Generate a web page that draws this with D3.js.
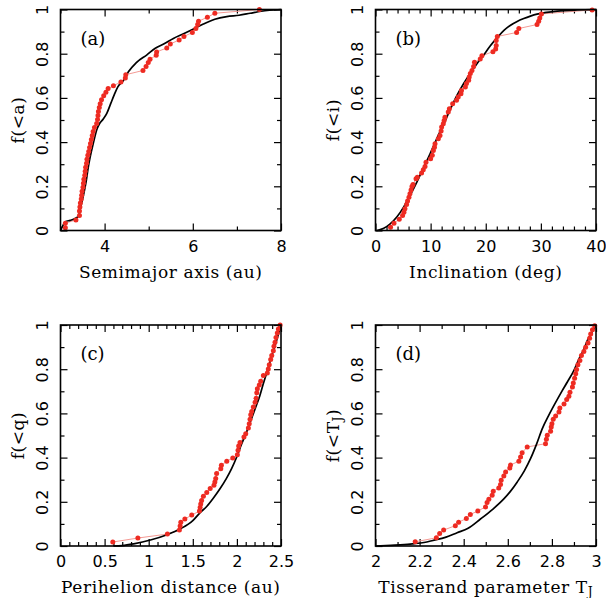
<!DOCTYPE html>
<html>
<head>
<meta charset="utf-8">
<script src="https://cdn.jsdelivr.net/npm/d3@7"></script>
<style>
  body { margin: 0; background: #fff; }
  svg text { fill: #000; }
</style>
</head>
<body>
<svg id="fig" width="606" height="598"></svg>
<script>
const aObs = [[3.11,0.012],[3.11,0.033],[3.35,0.048],[3.43,0.068],[3.43,0.088],[3.44,0.106],[3.45,0.124],[3.47,0.142],[3.48,0.16],[3.49,0.178],[3.51,0.196],[3.52,0.214],[3.53,0.232],[3.55,0.25],[3.56,0.268],[3.57,0.286],[3.59,0.304],[3.60,0.322],[3.62,0.34],[3.64,0.358],[3.66,0.376],[3.68,0.394],[3.70,0.412],[3.72,0.43],[3.74,0.448],[3.77,0.466],[3.82,0.484],[3.84,0.502],[3.85,0.52],[3.86,0.538],[3.88,0.556],[3.90,0.574],[3.93,0.592],[3.98,0.61],[4.03,0.626],[4.08,0.642],[4.20,0.655],[4.37,0.672],[4.47,0.69],[4.48,0.705],[4.87,0.724],[4.94,0.742],[4.99,0.76],[5.03,0.775],[5.17,0.793],[5.18,0.808],[5.41,0.826],[5.49,0.844],[5.69,0.862],[5.80,0.878],[5.99,0.896],[6.07,0.914],[6.11,0.932],[6.13,0.947],[6.33,0.965],[6.50,0.983],[7.51,1.0]];
const aModel = [[3.0,0.0],[3.05,0.02],[3.11,0.04],[3.22,0.046],[3.33,0.054],[3.41,0.066],[3.45,0.1],[3.51,0.15],[3.58,0.22],[3.63,0.287],[3.67,0.33],[3.75,0.4],[3.82,0.455],[3.88,0.482],[3.97,0.505],[4.05,0.53],[4.14,0.575],[4.22,0.615],[4.30,0.65],[4.43,0.68],[4.54,0.718],[4.72,0.76],[4.96,0.795],[5.15,0.825],[5.35,0.845],[5.56,0.869],[5.79,0.89],[6.05,0.915],[6.24,0.934],[6.5,0.956],[6.77,0.968],[7.05,0.974],[7.3,0.983],[7.55,0.992],[8.0,1.0]];

const iObs = [[2.73,0.015],[3.35,0.033],[4.31,0.051],[4.91,0.068],[5.16,0.083],[5.34,0.098],[5.64,0.118],[5.82,0.133],[6.07,0.151],[6.25,0.166],[6.45,0.183],[6.62,0.199],[6.8,0.208],[7.35,0.234],[7.58,0.241],[8.36,0.26],[8.67,0.275],[8.98,0.29],[9.16,0.309],[10.0,0.325],[10.3,0.34],[10.5,0.362],[10.7,0.377],[10.8,0.393],[11.4,0.415],[11.7,0.43],[11.9,0.45],[12.0,0.468],[12.3,0.483],[12.45,0.498],[12.6,0.513],[13.2,0.536],[13.4,0.551],[14.0,0.574],[14.7,0.589],[15.0,0.604],[15.5,0.619],[15.6,0.634],[16.3,0.649],[16.5,0.665],[16.9,0.68],[17.0,0.695],[17.2,0.71],[17.5,0.724],[17.8,0.742],[17.95,0.761],[19.0,0.776],[19.3,0.791],[21.3,0.809],[21.8,0.821],[21.9,0.837],[21.9,0.86],[22.1,0.878],[25.6,0.896],[26.0,0.914],[29.3,0.932],[29.6,0.947],[29.8,0.962],[30.1,0.98],[39.3,0.998]];
const iModel = [[0.3,0],[1.5,0.01],[2.67,0.03],[3.9,0.062],[5.1,0.106],[6.3,0.16],[7.5,0.219],[8.7,0.283],[9.9,0.347],[11.1,0.415],[12.4,0.483],[13.6,0.55],[14.8,0.612],[16.0,0.665],[17.2,0.712],[18.4,0.755],[19.6,0.793],[20.8,0.835],[22.1,0.873],[23.3,0.905],[24.5,0.929],[25.7,0.946],[26.9,0.959],[28.1,0.97],[29.3,0.979],[31.0,0.987],[33.0,0.993],[36.6,0.998],[40,1.0]];

const qObs = [[0.593,0.018],[0.877,0.036],[1.212,0.054],[1.348,0.072],[1.356,0.09],[1.364,0.107],[1.41,0.122],[1.488,0.14],[1.575,0.158],[1.583,0.174],[1.59,0.19],[1.60,0.206],[1.62,0.225],[1.658,0.242],[1.697,0.26],[1.74,0.275],[1.75,0.29],[1.76,0.305],[1.77,0.328],[1.817,0.35],[1.824,0.365],[1.885,0.384],[1.953,0.398],[2.005,0.413],[2.013,0.433],[2.02,0.453],[2.035,0.468],[2.08,0.493],[2.10,0.508],[2.13,0.534],[2.14,0.553],[2.149,0.573],[2.157,0.594],[2.168,0.609],[2.186,0.629],[2.206,0.651],[2.217,0.669],[2.225,0.693],[2.232,0.711],[2.254,0.729],[2.27,0.745],[2.30,0.772],[2.345,0.783],[2.356,0.801],[2.367,0.82],[2.383,0.844],[2.395,0.862],[2.413,0.884],[2.42,0.904],[2.432,0.922],[2.443,0.944],[2.458,0.964],[2.47,0.982],[2.49,1.0]];
const qModel = [[0.6,0],[0.7,0.002],[0.83,0.01],[1.02,0.027],[1.2,0.05],[1.36,0.078],[1.5,0.115],[1.58,0.15],[1.66,0.18],[1.73,0.215],[1.81,0.26],[1.88,0.305],[1.94,0.35],[2.0,0.405],[2.05,0.458],[2.11,0.516],[2.16,0.57],[2.21,0.625],[2.26,0.68],[2.3,0.735],[2.35,0.8],[2.4,0.866],[2.45,0.93],[2.5,1.0]];

const tObs = [[2.18,0.019],[2.276,0.037],[2.291,0.057],[2.309,0.072],[2.362,0.092],[2.377,0.107],[2.412,0.125],[2.43,0.143],[2.464,0.158],[2.499,0.177],[2.506,0.197],[2.514,0.212],[2.529,0.23],[2.534,0.248],[2.559,0.263],[2.567,0.278],[2.57,0.298],[2.582,0.317],[2.59,0.335],[2.609,0.353],[2.612,0.366],[2.65,0.384],[2.658,0.403],[2.665,0.422],[2.688,0.448],[2.771,0.463],[2.775,0.483],[2.779,0.501],[2.794,0.519],[2.797,0.538],[2.80,0.553],[2.806,0.573],[2.817,0.588],[2.832,0.606],[2.836,0.624],[2.855,0.643],[2.867,0.663],[2.877,0.678],[2.882,0.696],[2.893,0.719],[2.897,0.738],[2.903,0.759],[2.908,0.779],[2.912,0.799],[2.918,0.82],[2.927,0.839],[2.934,0.862],[2.945,0.88],[2.953,0.899],[2.964,0.919],[2.971,0.94],[2.976,0.959],[2.984,0.979],[2.994,0.997]];
const tModel = [[2.0,0],[2.07,0.003],[2.13,0.006],[2.17,0.01],[2.22,0.016],[2.26,0.025],[2.32,0.04],[2.37,0.06],[2.42,0.08],[2.476,0.122],[2.53,0.165],[2.582,0.213],[2.61,0.245],[2.643,0.29],[2.675,0.34],[2.703,0.395],[2.73,0.46],[2.756,0.53],[2.785,0.59],[2.817,0.65],[2.845,0.7],[2.87,0.742],[2.90,0.795],[2.923,0.847],[2.945,0.89],[2.961,0.93],[2.98,0.965],[3.0,1.0]];

// tick values
const yMajor = [0, 0.2, 0.4, 0.6, 0.8, 1];
const yMinor = [0.1, 0.3, 0.5, 0.7, 0.9];
const yTickLabels = ['0', '0.2', '0.4', '0.6', '0.8', '1'];

const panels = [
  { tag: '(a)', left: 60.5, top: 9.5, xDomain: [3, 8],
    xMajor: [4, 6, 8], xMinor: [3, 5, 7], xFmt: d3.format('d'),
    xTitle: [['Semimajor axis (au)']], yTitle: [['f(<a)']], obs: aObs, model: aModel },
  { tag: '(b)', left: 375.5, top: 9.5, xDomain: [0, 40],
    xMajor: [0, 10, 20, 30, 40], xMinor: d3.range(2, 40, 2).filter(v => v % 10), xFmt: d3.format('d'),
    xTitle: [['Inclination (deg)']], yTitle: [['f(<i)']], obs: iObs, model: iModel },
  { tag: '(c)', left: 60.5, top: 325, xDomain: [0, 2.5],
    xMajor: [0, 0.5, 1, 1.5, 2, 2.5], xMinor: d3.range(1, 25).filter(v => v % 5).map(v => v / 10), xFmt: d => String(d),
    xTitle: [['Perihelion distance (au)']], yTitle: [['f(<q)']], obs: qObs, model: qModel },
  { tag: '(d)', left: 375.5, top: 325, xDomain: [2, 3],
    xMajor: [2, 2.2, 2.4, 2.6, 2.8, 3], xMinor: [2.1, 2.3, 2.5, 2.7, 2.9], xFmt: d => String(d),
    xTitle: [['Tisserand parameter T'], ['J', 'sub']], yTitle: [['f(<T'], ['J', 'sub'], [')']], obs: tObs, model: tModel }
];

const W = 220.5, H = 221;
const MAJ = 7, MIN = 4;
const svg = d3.select('#fig');

function addRich(sel, parts) {
  parts.forEach(p => {
    const ts = sel.append('tspan').text(p[0]);
    if (p[1] === 'sub') ts.attr('baseline-shift', '-28%').attr('font-size', '72%');
  });
}

panels.forEach(p => {
  const g = svg.append('g').attr('transform', `translate(${p.left},${p.top})`);
  const x = d3.scaleLinear().domain(p.xDomain).range([0, W]);
  const y = d3.scaleLinear().domain([0, 1]).range([H, 0]);

  // ticks on all four sides, pointing inwards; labels only bottom and left
  const sides = [
    [d3.axisBottom, x, p.xMajor, p.xMinor, `translate(0,${H})`, 'x'],
    [d3.axisTop, x, p.xMajor, p.xMinor, 'translate(0,0)', null],
    [d3.axisLeft, y, yMajor, yMinor, 'translate(0,0)', 'y'],
    [d3.axisRight, y, yMajor, yMinor, `translate(${W},0)`, null]
  ];
  sides.forEach(([axisFn, sc, maj, min, tr, lab]) => {
    const fmt = lab === 'y' ? (d, i) => yTickLabels[i] : lab === 'x' ? p.xFmt : '';
    const gMin = g.append('g').attr('transform', tr)
      .call(axisFn(sc).tickValues(min).tickSize(-MIN).tickFormat(''));
    const gMaj = g.append('g').attr('transform', tr)
      .call(axisFn(sc).tickValues(maj).tickSize(-MAJ).tickPadding(8).tickFormat(fmt));
    [gMin, gMaj].forEach(a => {
      a.select('.domain').remove();
      a.selectAll('line').attr('stroke', '#000').attr('stroke-width', 1.2);
    });
    const txt = gMaj.selectAll('text').attr('font-family', 'DejaVu Sans').attr('font-size', 16);
    if (lab === 'y') {
      // y tick labels read upwards
      txt.attr('x', null).attr('dy', null).attr('text-anchor', 'middle')
        .attr('transform', 'translate(-13,0) rotate(-90)');
    } else if (lab === 'x') {
      txt.attr('dy', null).attr('y', 21);
    }
  });

  // observed and model distributions
  const line = d3.line().x(d => x(d[0])).y(d => y(d[1]));
  g.append('path').datum(p.obs).attr('d', line)
    .attr('fill', 'none').attr('stroke', '#f49a94').attr('stroke-width', 1);
  g.append('path').datum(p.model).attr('d', line.curve(d3.curveMonotoneX))
    .attr('fill', 'none').attr('stroke', '#000').attr('stroke-width', 1.7);
  g.selectAll('circle.obs').data(p.obs).join('circle').attr('class', 'obs')
    .attr('cx', d => x(d[0])).attr('cy', d => y(d[1])).attr('r', 2.5)
    .attr('fill', '#ee2b22');

  // frame
  g.append('rect').attr('width', W).attr('height', H)
    .attr('fill', 'none').attr('stroke', '#000').attr('stroke-width', 1.6);

  // panel tag
  g.append('text').attr('x', 20).attr('y', 35)
    .attr('font-family', 'DejaVu Serif').attr('font-size', 18).text(p.tag);

  // axis titles
  const xt = g.append('text').attr('x', W / 2).attr('y', H + 47)
    .attr('text-anchor', 'middle').attr('font-family', 'DejaVu Serif')
    .attr('font-size', 17).attr('letter-spacing', 0.6);
  addRich(xt, p.xTitle);
  const yt = g.append('text').attr('transform', `translate(-37,${H / 2}) rotate(-90)`)
    .attr('text-anchor', 'middle').attr('font-family', 'DejaVu Serif')
    .attr('font-size', 17).attr('letter-spacing', 0.6);
  addRich(yt, p.yTitle);
});
</script>
</body>
</html>
